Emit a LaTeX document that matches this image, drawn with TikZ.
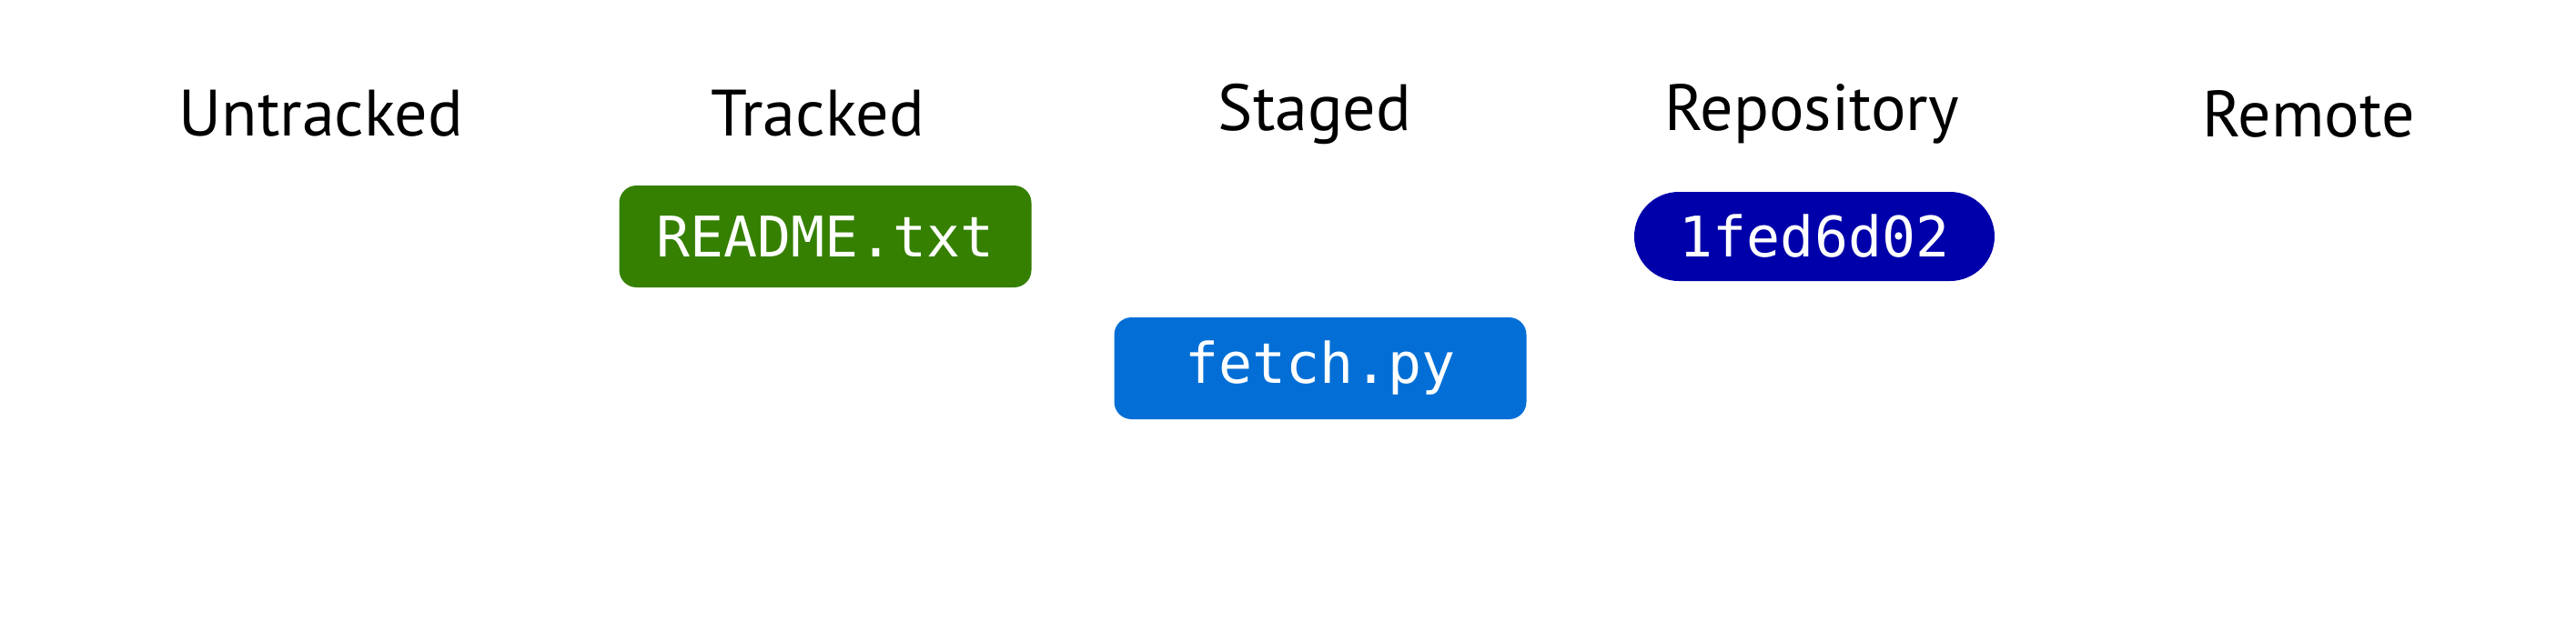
\documentclass[tikz,border=0pt]{standalone}
\usepackage{fontspec}
\setmainfont{PT Sans}
\setmonofont{DejaVu Sans Mono}
\usepackage{tikz}

\definecolor{trackedgreen}{RGB}{53,128,0}
\definecolor{stagedblue}{RGB}{3,111,214}
\definecolor{commitblue}{RGB}{0,0,170}

\tikzset{
  stage/.style={font=\fontsize{20.5}{24}\selectfont, inner sep=0pt},
  file/.style={text=white, font=\ttfamily\fontsize{17.5}{21}\selectfont,
    minimum width=4.53cm, minimum height=1.12cm, rounded corners=.19cm, inner sep=0pt},
  commit/.style={text=white, fill=commitblue, font=\ttfamily\fontsize{17.5}{21}\selectfont,
    minimum width=3.96cm, minimum height=.98cm, rounded corners=.49cm, inner sep=0pt}
}

\begin{document}
\begin{tikzpicture}
    \useasboundingbox (0,0) rectangle (28.31,-6.83);
    \foreach \name/\x/\label in {untracked/3.53/Untracked,tracked/8.99/Tracked,staged/14.45/Staged,repository/19.91/Repository,remote/25.37/Remote}
      \node[stage] (\name) at (\x,-1.25) {\label};
    \node[file,fill=trackedgreen] (readme) at (9.07,-2.60) {README.txt};
    \node[file,fill=stagedblue] (fetch) at (14.51,-4.05) {fetch.py};
    \node[commit] (head) at (19.94,-2.60) {1fed6d02};
  \end{tikzpicture}
\end{document}
